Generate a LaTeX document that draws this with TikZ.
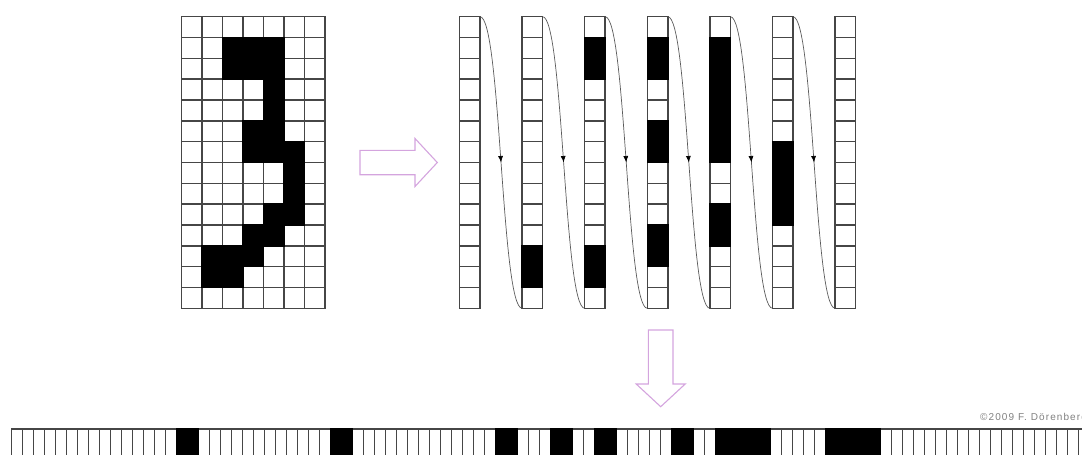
\documentclass[tikz,border=0pt]{standalone}
\usepackage{fontspec}
\newfontfamily\creditfont[LetterSpace=11]{Liberation Sans}
\usetikzlibrary{calc,decorations.markings,arrows.meta}
\definecolor{gridline}{RGB}{70,70,70}
\definecolor{hollow}{RGB}{212,164,222}
\definecolor{flow}{RGB}{90,90,90}
\tikzset{
  cell/.style={draw=gridline, line width=1.5pt, fill=white},
  ink/.style={draw=black, line width=1.5pt, fill=black},
  frame/.style={draw=none, inner sep=0pt, outer sep=0pt, anchor=north west,
    minimum width=20.47pt, minimum height=291.6pt},
  flowline/.style={draw=flow, line width=0.7pt, postaction={decorate},
    decoration={markings, mark=at position 0.5 with {\arrow[black]{Latex[length=6.5pt,width=5pt]}}}},
  hollowarrow/.style={draw=hollow, line width=1.1pt, line join=miter},
}
% black pixels of the digit, as column/row
\def\digit{2/1,3/1,4/1,2/2,3/2,4/2,4/3,4/4,3/5,4/5,3/6,4/6,5/6,5/7,5/8,4/9,5/9,3/10,4/10,1/11,2/11,3/11,1/12,2/12}
% black cells of the flattened vector
\def\vecblack{15,16,29,30,44,45,49,50,53,54,60,61,64,65,66,67,68,74,75,76,77,78}
\def\cw{20.47}
\def\ch{20.83}
\begin{document}
\begin{tikzpicture}[x=1pt,y=-1pt]
\useasboundingbox (0,0) rectangle (1082,455);
\clip (0,0) rectangle (1082,455);

% ---- the 7 x 14 pixel image ----
\node[frame, minimum width=143.3pt] (grid) at (181.7,16.7) {};
\foreach \c in {0,...,6}
  \foreach \r in {0,...,13}
    \draw[cell] (181.7+\c*\cw, 16.7+\r*\ch) rectangle ++(\cw,\ch);
\foreach \c/\r in \digit
  \draw[ink] (181.7+\c*\cw, 16.7+\r*\ch) rectangle ++(\cw,\ch);

% ---- the columns, split apart ----
\foreach \c in {0,...,6} {
  \pgfmathsetmacro\sx{459.5+62.6*\c}
  \node[frame] (s\c) at (\sx,16.7) {};
  \foreach \r in {0,...,13}
    \draw[cell] (\sx, 16.7+\r*\ch) rectangle ++(\cw,\ch);
}
\foreach \c/\r in \digit {
  \pgfmathsetmacro\sx{459.5+62.6*\c}
  \draw[ink] (\sx, 16.7+\r*\ch) rectangle ++(\cw,\ch);
}

% ---- links from the top of one column to the bottom of the next ----
\foreach \c [evaluate=\c as \n using int(\c+1)] in {0,...,5}
  \draw[flowline] (s\c.north east)
    .. controls ($(s\c.north east)!.5!(s\n.north west)$)
       and ($(s\c.south east)!.5!(s\n.south west)$) .. (s\n.south west);

% ---- hollow arrows ----
\coordinate (rtip) at (437.3,162.5);
\draw[hollowarrow] (360,150.3) -- (415,150.3) -- (415,138.5) -- (rtip)
  -- (415,186.5) -- (415,174.7) -- (360,174.7) -- cycle;
\coordinate (dtip) at (660.7,406.7);
\draw[hollowarrow] (648.4,330) -- (648.4,384) -- (636.2,384) -- (dtip)
  -- (685.2,384) -- (673,384) -- (673,330) -- cycle;

% ---- the flattened vector ----
\node[inner sep=0pt, outer sep=0pt, anchor=north west, minimum width=1078pt, minimum height=40pt] (vec) at (11.7,429) {};
\foreach \k in {0,...,97}
  \draw[cell] (11.7+\k*11, 429) rectangle ++(11,40);
\foreach \k in \vecblack
  \draw[ink] (11.7+\k*11, 429) rectangle ++(11,40);

% ---- credit line ----
\node[anchor=west, inner sep=0pt, text=black!50, font=\creditfont\fontsize{10}{11}\selectfont] (credit) at (980,418) {©2009 F. Dörenberg};
\end{tikzpicture}
\end{document}
